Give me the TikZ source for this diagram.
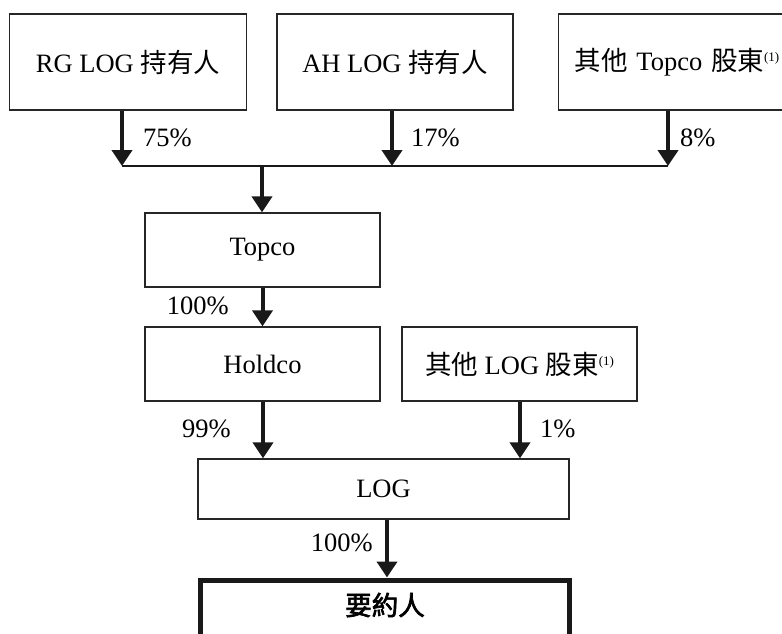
\documentclass[tikz,border=0pt]{standalone}
\usepackage{fontspec}
\setmainfont{Liberation Serif}
\newfontfamily\cjk{Noto Sans CJK TC}[AutoFakeBold=2.5]
\usetikzlibrary{arrows.meta}
\newcommand{\noteone}{\raisebox{9pt}{\fontsize{13}{13}\selectfont(1)}}
\begin{document}
\begin{tikzpicture}[x=1pt,y=-1pt,
  txt/.style={font=\fontsize{26.5}{31}\selectfont},
  box/.style={txt, draw=black!85, line width=1.3pt, inner sep=0pt},
  own/.style={line width=4pt, black!90,
    -{Triangle[length=16pt,width=20pt]}},
  bus/.style={line width=2pt, black!90},
  pct/.style={txt, inner sep=0pt}]
\fill[white] (0,0) rectangle (782,634);
\useasboundingbox (0,0) rectangle (782,634);

% shareholders of Topco
\node[box, minimum width=237pt, minimum height=96pt] (rg) at (128,62)
  {RG LOG {\cjk 持有人}};
\node[box, minimum width=236pt, minimum height=96pt] (ah) at (395,62)
  {AH LOG {\cjk 持有人}};
\node[box, text width=224pt, inner xsep=16pt, align=left,
  minimum height=96pt, anchor=west] (oth) at (558,62)
  {{\cjk 其他} Topco {\cjk 股東}\noteone};

% collecting bus
\coordinate (j1) at (122,166);
\coordinate (j2) at (392,166);
\coordinate (j3) at (668,166);
\coordinate (jt) at (262,166);
\draw[own] (rg.south -| j1) -- (j1);
\draw[own] (ah.south -| j2) -- (j2);
\draw[own] (oth.south -| j3) -- (j3);
\draw[bus] (j1) -- (j3);
\node[pct, anchor=west] (p75) at (143,138) {75\%};
\node[pct, anchor=west] (p17) at (411,138) {17\%};
\node[pct, anchor=west] (p8) at (680,138) {8\%};

% holding chain
\node[box, minimum width=235pt, minimum height=74pt] (topco) at (262.5,250) {Topco};
\node[box, minimum width=235pt, minimum height=74pt] (holdco) at (262.5,364) {Holdco};
\node[box, minimum width=235pt, minimum height=74pt] (othlog) at (519.5,364)
  {{\cjk 其他} LOG {\cjk 股東}\noteone};
\node[box, minimum width=371pt, minimum height=60pt] (log) at (383.5,489) {LOG};

\draw[own] (jt) -- (jt |- topco.north);
\draw[own] (topco.south) -- (holdco.north);
\node[pct, anchor=east] (p100a) at (229,306) {100\%};

\coordinate (a1) at (263,401);
\coordinate (a2) at (520,401);
\draw[own] (holdco.south -| a1) -- (log.north -| a1);
\draw[own] (othlog.south -| a2) -- (log.north -| a2);
\node[pct, anchor=east] (p99) at (231,429) {99\%};
\node[pct, anchor=west] (p1) at (540,429) {1\%};

% offeror
\node[txt, draw=black!90, line width=5pt, minimum width=369pt,
  minimum height=110pt, anchor=north, inner sep=0pt, text depth=0pt,
  text height=0pt] (offeror) at (385,577.5) {};
\node[txt, font=\fontsize{26.5}{31}\selectfont\cjk\bfseries] (offtxt) at (385,605) {要約人};
\draw[own] (log.south -| 387,0) -- (offeror.north -| 387,0);
\node[pct, anchor=east] (p100b) at (373,543) {100\%};
\end{tikzpicture}
\end{document}
